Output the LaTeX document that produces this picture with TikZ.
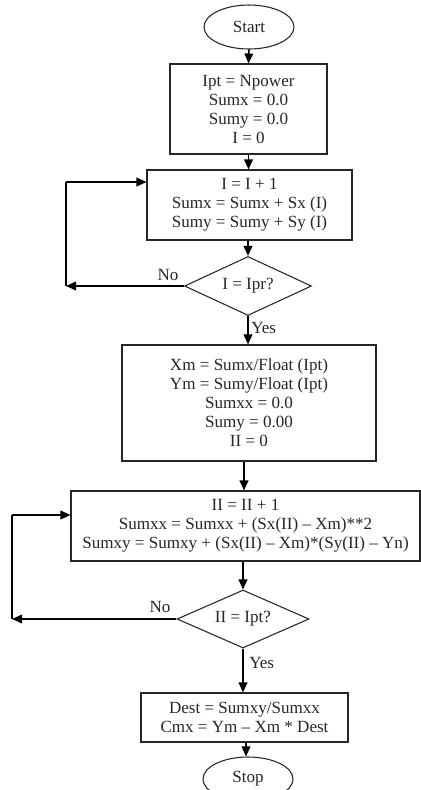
\documentclass[tikz,border=0pt]{standalone}
\usepackage{fontspec}
\setmainfont{Liberation Serif}
\usetikzlibrary{shapes.geometric,arrows.meta}
\begin{document}
\begin{tikzpicture}[x=0.75pt,y=-0.75pt,
  every node/.style={font=\fontsize{12.8}{14.25}\selectfont, text=black!85, inner sep=0pt, align=center},
  procbox/.style={draw=black!85, line width=0.8pt, rectangle},
  term/.style={draw=black!85, line width=0.8pt, ellipse, minimum width=90*0.75pt, minimum height=44*0.75pt},
  decide/.style={draw=black!85, line width=0.8pt, diamond, aspect=2.15},
  arr/.style={line width=1.2pt, -{Triangle[length=7.5pt,width=6.5pt]}},
  plain/.style={line width=1.2pt},
  lbl/.style={font=\fontsize{12.8}{14.25}\selectfont}
]
\useasboundingbox (0,0) rectangle (421,790);

% terminals, process boxes and decisions
\node[term] (start) at (249,27) {Start};
\node[procbox, minimum width=157*0.75pt, minimum height=90*0.75pt] (init) at (248.5,109)
  {Ipt = Npower\\Sumx = 0.0\\Sumy = 0.0\\I = 0};
\node[procbox, minimum width=205*0.75pt, minimum height=70*0.75pt] (acc) at (249.5,205)
  {I = I + 1\\Sumx = Sumx + Sx (I)\\Sumy = Sumy + Sy (I)};
\node[decide, minimum width=127*0.75pt, minimum height=59*0.75pt] (test1) at (248,286) {I = Ipr?};
\node[procbox, minimum width=254*0.75pt, minimum height=116*0.75pt] (means) at (249,403)
  {Xm = Sumx/Float (Ipt)\\Ym = Sumy/Float (Ipt)\\Sumxx = 0.0\\Sumy = 0.00\\II = 0};
\node[procbox, minimum width=349*0.75pt, minimum height=70*0.75pt] (sums) at (245.5,526)
  {II = II + 1\\Sumxx = Sumxx + (Sx(II) -- Xm)**2\\Sumxy = Sumxy + (Sx(II) -- Xm)*(Sy(II) -- Yn)};
\node[decide, minimum width=132*0.75pt, minimum height=58*0.75pt] (test2) at (243,619) {II = Ipt?};
\node[procbox, minimum width=207*0.75pt, minimum height=49*0.75pt] (res) at (244.5,717.5)
  {Dest = Sumxy/Sumxx\\Cmx = Ym -- Xm * Dest};
\node[term] (stop) at (248,779) {Stop};

% main flow
\coordinate (c3) at (244,0);
\coordinate (c5) at (246,0);
\draw[arr] (start.south) -- (init.north);
\draw[arr] (init.south |- init.south) -- (init.south |- acc.north);
\draw[arr] (test1.north |- acc.south) -- (test1.north);
\draw[arr] (test1.south) -- (test1.south |- means.north);
\draw[arr] (means.south -| c3) -- (sums.north -| c3);
\draw[arr] (test2.north |- sums.south) -- (test2.north);
\draw[arr] (test2.south) -- (test2.south |- res.north);
\draw[arr] (res.south -| c5) -- (stop.north -| c5);

% first loop
\coordinate (l1b) at (66,286);
\coordinate (l1a) at (66,182);
\draw[arr] (test1.west) -- (l1b);
\draw[plain] (l1b) -- (l1a);
\draw[arr] (l1a) -- (acc.west |- l1a);
\node[lbl] (no1) at (168,275) {No};
\node[lbl, anchor=west] (yes1) at (251,328) {Yes};

% second loop
\coordinate (l2b) at (12,619);
\coordinate (l2a) at (12,515);
\draw[arr] (test2.west) -- (l2b);
\draw[plain] (l2b) -- (l2a);
\draw[arr] (l2a) -- (sums.west |- l2a);
\node[lbl] (no2) at (160,607) {No};
\node[lbl, anchor=west] (yes2) at (249,663) {Yes};
\end{tikzpicture}
\end{document}
